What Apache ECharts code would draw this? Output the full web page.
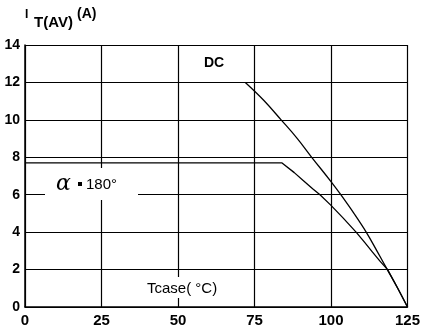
<!DOCTYPE html>
<html>
<head>
<meta charset="utf-8">
<script src="https://cdn.jsdelivr.net/npm/echarts@6/dist/echarts.min.js"></script>
<style>html,body{margin:0;padding:0;background:#fff}#c{width:424px;height:330px}</style>
</head>
<body>
<div id="c"></div>
<script>
var xTicks = [0, 25, 50, 75, 100, 125];
var yTicks = [0, 2, 4, 6, 8, 10, 12, 14];
var dcCurve = [[72,12],[78,11.05],[83.7,10],[89,9.0],[93.7,8],[100,6.7],[103.2,6],[107.5,5],[111.5,4],[115,3],[118.4,2],[121.8,1],[125,0]];
var a180Curve = [[0,7.7],[84,7.7],[88,7.18],[91,6.75],[94,6.32],[96.4,6],[100,5.43],[104,4.75],[108.2,4],[111,3.45],[113.5,2.95],[116,2.45],[118.5,2],[121.8,1],[125,0]];

var chart = echarts.init(document.getElementById('c'));
var fontFam = '"Liberation Sans", Arial, sans-serif';
chart.setOption({
  animation: false,
  backgroundColor: '#fff',
  grid: {left: 25, right: 16.5, top: 45, bottom: 23, containLabel: false},
  xAxis: {
    type: 'value', min: 0, max: 125, interval: 25,
    axisLine: {show: true, lineStyle: {color: '#000', width: 1.5}},
    axisTick: {show: false},
    splitLine: {show: true, lineStyle: {color: '#000', width: 1.2}},
    axisLabel: {color: '#000', fontSize: 15, fontWeight: 'bold', fontFamily: fontFam, margin: 6,
      formatter: function (v) { return xTicks.indexOf(v) >= 0 ? String(v) : ''; }}
  },
  yAxis: {
    type: 'value', min: 0, max: 14, interval: 2,
    axisLine: {show: true, lineStyle: {color: '#000', width: 1.5}},
    axisTick: {show: false},
    splitLine: {show: true, lineStyle: {color: '#000', width: 1.2}},
    axisLabel: {color: '#000', fontSize: 14, fontWeight: 'bold', fontFamily: fontFam, margin: 5,
      formatter: function (v) { return yTicks.indexOf(v) >= 0 ? String(v) : ''; }}
  },
  series: [
    {type: 'line', data: dcCurve, showSymbol: false, smooth: 0.4,
     lineStyle: {color: '#000', width: 1.3}, z: 5},
    {type: 'line', data: a180Curve, showSymbol: false, smooth: false,
     lineStyle: {color: '#000', width: 1.3}, z: 5}
  ],
  graphic: [
    {type: 'text', left: 25, top: 9, style: {text: 'I', fill: '#000', font: 'bold 12px ' + fontFam}},
    {type: 'text', left: 34, top: 15, style: {text: 'T(AV)', fill: '#000', font: 'bold 15px ' + fontFam}},
    {type: 'text', left: 77, top: 7, style: {text: '(A)', fill: '#000', font: 'bold 14px ' + fontFam}},
    {type: 'text', left: 204, top: 56, z: 10, style: {text: 'DC', fill: '#000', font: 'bold 14px ' + fontFam}},
    {type: 'rect', shape: {x: 45, y: 168, width: 93, height: 32}, style: {fill: '#fff'}, z: 1},
    {type: 'text', left: 56, top: 173, z: 10, style: {text: 'α', fill: '#000', font: 'italic 22px "DejaVu Serif", serif'}},
    {type: 'rect', shape: {x: 78, y: 182, width: 4, height: 4}, style: {fill: '#000'}, z: 10},
    {type: 'text', left: 86, top: 177, z: 10, style: {text: '180°', fill: '#000', font: '15px ' + fontFam}},
    {type: 'rect', shape: {x: 143, y: 277, width: 80, height: 21}, style: {fill: '#fff'}, z: 1},
    {type: 'text', left: 147, top: 281, z: 10, style: {text: 'Tcase( °C)', fill: '#000', font: '15px ' + fontFam}}
  ]
});
</script>
</body>
</html>
